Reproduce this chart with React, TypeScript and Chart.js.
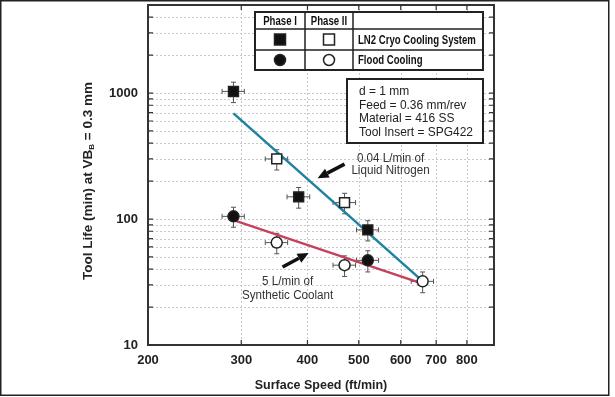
import React, { useEffect, useRef } from 'react';
import { Chart, registerables } from 'chart.js';
Chart.register(...registerables);

// ---- Data ----
const xTickValues = [200, 300, 400, 500, 600, 700, 800];
const yLabelValues = [10, 100, 1000];
const yMinorValues = [20, 30, 40, 50, 60, 70, 80, 90, 200, 300, 400, 500, 600, 700, 800, 900, 2000, 3000, 4000];

const ln2Phase1Speed = [290, 385, 520];
const ln2Phase1Life = [1030, 150, 82];
const ln2Phase1SpeedErr = [14, 19, 25];
const ln2Phase1LifeErr = [190, 28, 15];

const ln2Phase2Speed = [350, 470];
const ln2Phase2Life = [300, 135];
const ln2Phase2SpeedErr = [17, 23];
const ln2Phase2LifeErr = [55, 25];

const floodPhase1Speed = [290, 520];
const floodPhase1Life = [105, 47];
const floodPhase1SpeedErr = [14, 25];
const floodPhase1LifeErr = [19, 9];

const floodPhase2Speed = [350, 470, 660];
const floodPhase2Life = [65, 43, 32];
const floodPhase2SpeedErr = [17, 23, 32];
const floodPhase2LifeErr = [12, 8, 6];

const ln2FitSpeed = [290, 655];
const ln2FitLife = [690, 33];
const floodFitSpeed = [290, 655];
const floodFitLife = [98, 31];

const legendHeaders = ['Phase I', 'Phase II'];
const legendLabels = ['LN2 Cryo Cooling System', 'Flood Cooling'];
const infoLines = ['d = 1 mm', 'Feed = 0.36 mm/rev', 'Material = 416 SS', 'Tool Insert = SPG422'];

// annotations in data units (speed, life)
const ln2Note = { lines: ['0.04 L/min of', 'Liquid Nitrogen'], x: 574, y: [299, 240] };
const ln2Arrow = { from: [470, 273], to: [418, 211] };
const floodNote = { lines: ['5 L/min of', 'Synthetic Coolant'], x: 367, y: [31.6, 24.5] };
const floodArrow = { from: [359, 41.6], to: [402, 53.7] };

const pts = (xs: number[], ys: number[]) => xs.map((x, i) => ({ x, y: ys[i] }));

const SANS = "'Liberation Sans', Arial, sans-serif";

function txt(ctx: CanvasRenderingContext2D, s: string, x: number, y: number, font: string, align: CanvasTextAlign, sx = 1) {
  ctx.save();
  ctx.font = font;
  ctx.textAlign = align;
  ctx.textBaseline = 'middle';
  ctx.translate(x, y);
  ctx.scale(sx, 1);
  ctx.fillText(s, 0, 0);
  ctx.restore();
}

function drawMarker(ctx: CanvasRenderingContext2D, kind: string, x: number, y: number, s: number) {
  ctx.save();
  ctx.lineWidth = 1.5;
  ctx.strokeStyle = '#222';
  ctx.fillStyle = kind.startsWith('filled') ? '#111' : '#fff';
  ctx.beginPath();
  if (kind.endsWith('Square')) ctx.rect(x - s / 2, y - s / 2, s, s);
  else ctx.arc(x, y, s / 2, 0, Math.PI * 2);
  ctx.fill();
  ctx.stroke();
  ctx.restore();
}

function drawArrow(ctx: CanvasRenderingContext2D, x1: number, y1: number, x2: number, y2: number) {
  const ang = Math.atan2(y2 - y1, x2 - x1);
  const hl = 11, hw = 5;
  const bx = x2 - hl * Math.cos(ang), by = y2 - hl * Math.sin(ang);
  ctx.save();
  ctx.strokeStyle = '#111';
  ctx.fillStyle = '#111';
  ctx.lineWidth = 3.5;
  ctx.beginPath();
  ctx.moveTo(x1, y1);
  ctx.lineTo(bx, by);
  ctx.stroke();
  ctx.beginPath();
  ctx.moveTo(x2, y2);
  ctx.lineTo(bx + hw * Math.sin(ang), by - hw * Math.cos(ang));
  ctx.lineTo(bx - hw * Math.sin(ang), by + hw * Math.cos(ang));
  ctx.closePath();
  ctx.fill();
  ctx.restore();
}

const backgroundPlugin = {
  id: 'bgGridErr',
  beforeDatasetsDraw(chart: any) {
    const { ctx, chartArea: a, scales } = chart;
    const xs = scales.x, ys = scales.y;
    ctx.save();
    ctx.strokeStyle = '#c9c9c9';
    ctx.lineWidth = 1;
    ctx.setLineDash([2, 2]);
    xTickValues.slice(1).forEach((v) => {
      const px = Math.round(xs.getPixelForValue(v)) + 0.5;
      ctx.beginPath(); ctx.moveTo(px, a.top); ctx.lineTo(px, a.bottom); ctx.stroke();
    });
    [...yMinorValues, 100, 1000].forEach((v) => {
      const py = Math.round(ys.getPixelForValue(v)) + 0.5;
      ctx.beginPath(); ctx.moveTo(a.left, py); ctx.lineTo(a.right, py); ctx.stroke();
    });
    ctx.setLineDash([]);
    // error bars
    ctx.strokeStyle = '#555';
    ctx.lineWidth = 1;
    chart.data.datasets.forEach((ds: any) => {
      if (!ds.xErr) return;
      ds.data.forEach((p: any, i: number) => {
        const px = xs.getPixelForValue(p.x), py = ys.getPixelForValue(p.y);
        const xl = xs.getPixelForValue(p.x - ds.xErr[i]), xr = xs.getPixelForValue(p.x + ds.xErr[i]);
        const yt = ys.getPixelForValue(p.y + ds.yErr[i]), yb = ys.getPixelForValue(p.y - ds.yErr[i]);
        const c = 2.5;
        ctx.beginPath();
        ctx.moveTo(xl, py); ctx.lineTo(xr, py);
        ctx.moveTo(xl, py - c); ctx.lineTo(xl, py + c);
        ctx.moveTo(xr, py - c); ctx.lineTo(xr, py + c);
        ctx.moveTo(px, yt); ctx.lineTo(px, yb);
        ctx.moveTo(px - c, yt); ctx.lineTo(px + c, yt);
        ctx.moveTo(px - c, yb); ctx.lineTo(px + c, yb);
        ctx.stroke();
      });
    });
    ctx.restore();
  },
  afterDraw(chart: any) {
    const { ctx, chartArea: a, scales, width, height } = chart;
    const xs = scales.x, ys = scales.y;
    ctx.save();
    // outer image frame
    ctx.strokeStyle = '#222';
    ctx.lineWidth = 1.5;
    ctx.strokeRect(0.75, 0.75, width - 7, height - 2.5);

    // plot frame
    ctx.strokeStyle = '#333';
    ctx.lineWidth = 2;
    ctx.strokeRect(a.left, a.top, a.right - a.left, a.bottom - a.top);
    // inner ticks
    ctx.lineWidth = 1.2;
    const tl = 5;
    [...yMinorValues, ...yLabelValues].forEach((v) => {
      const py = ys.getPixelForValue(v);
      ctx.beginPath();
      ctx.moveTo(a.left, py); ctx.lineTo(a.left + tl, py);
      ctx.moveTo(a.right, py); ctx.lineTo(a.right - tl, py);
      ctx.stroke();
    });
    xTickValues.slice(1).forEach((v) => {
      const px = xs.getPixelForValue(v);
      ctx.beginPath();
      ctx.moveTo(px, a.top); ctx.lineTo(px, a.top + tl);
      ctx.moveTo(px, a.bottom); ctx.lineTo(px, a.bottom - tl);
      ctx.stroke();
    });

    // legend table
    const L = a.left + 107, T = a.top + 7, R = a.left + 335, B = a.top + 65;
    const c1 = a.left + 157, c2 = a.left + 205;
    const r1 = a.top + 24, r2 = a.top + 45;
    ctx.fillStyle = '#fff';
    ctx.fillRect(L, T, R - L, B - T);
    ctx.strokeStyle = '#222';
    ctx.lineWidth = 2;
    ctx.strokeRect(L, T, R - L, B - T);
    ctx.lineWidth = 1.5;
    ctx.beginPath();
    ctx.moveTo(L, r1); ctx.lineTo(R, r1);
    ctx.moveTo(L, r2); ctx.lineTo(R, r2);
    ctx.moveTo(c1, T); ctx.lineTo(c1, B);
    ctx.moveTo(c2, T); ctx.lineTo(c2, B);
    ctx.stroke();
    ctx.fillStyle = '#111';
    const lf = `bold 12px ${SANS}`;
    txt(ctx, legendHeaders[0], (L + c1) / 2, (T + r1) / 2 + 1, lf, 'center', 0.8);
    txt(ctx, legendHeaders[1], (c1 + c2) / 2, (T + r1) / 2 + 1, lf, 'center', 0.8);
    txt(ctx, legendLabels[0], c2 + 5, (r1 + r2) / 2 + 1, lf, 'left', 0.8);
    txt(ctx, legendLabels[1], c2 + 5, (r2 + B) / 2 + 1, lf, 'left', 0.8);
    drawMarker(ctx, 'filledSquare', (L + c1) / 2, (r1 + r2) / 2, 11);
    drawMarker(ctx, 'openSquare', (c1 + c2) / 2, (r1 + r2) / 2, 11);
    drawMarker(ctx, 'filledCircle', (L + c1) / 2, (r2 + B) / 2, 11);
    drawMarker(ctx, 'openCircle', (c1 + c2) / 2, (r2 + B) / 2, 11);

    // info box
    const iL = a.left + 199, iT = a.top + 74, iR = a.left + 335, iB = a.top + 138;
    ctx.fillStyle = '#fff';
    ctx.fillRect(iL, iT, iR - iL, iB - iT);
    ctx.strokeStyle = '#222';
    ctx.lineWidth = 2;
    ctx.strokeRect(iL, iT, iR - iL, iB - iT);
    ctx.fillStyle = '#222';
    infoLines.forEach((t, i) => txt(ctx, t, iL + 12, iT + 12.5 + i * 13.7, `13px ${SANS}`, 'left', 0.92));

    // annotations
    ctx.fillStyle = '#333';
    const af = `12px ${SANS}`;
    ln2Note.lines.forEach((t, i) => txt(ctx, t, xs.getPixelForValue(ln2Note.x), ys.getPixelForValue(ln2Note.y[i]), af, 'center', 0.97));
    floodNote.lines.forEach((t, i) => txt(ctx, t, xs.getPixelForValue(floodNote.x), ys.getPixelForValue(floodNote.y[i]), af, 'center', 0.97));
    drawArrow(ctx, xs.getPixelForValue(ln2Arrow.from[0]), ys.getPixelForValue(ln2Arrow.from[1]),
      xs.getPixelForValue(ln2Arrow.to[0]), ys.getPixelForValue(ln2Arrow.to[1]));
    drawArrow(ctx, xs.getPixelForValue(floodArrow.from[0]), ys.getPixelForValue(floodArrow.from[1]),
      xs.getPixelForValue(floodArrow.to[0]), ys.getPixelForValue(floodArrow.to[1]));

    // axis titles
    ctx.fillStyle = '#222';
    txt(ctx, 'Surface Speed (ft/min)', (a.left + a.right) / 2, 385, `bold 13px ${SANS}`, 'center', 0.96);

    ctx.save();
    ctx.translate(88, 181);
    ctx.rotate(-Math.PI / 2);
    const p1 = 'Tool Life (min) at VB', sub = 'B', p2 = ' = 0.3 mm';
    const mf = `bold 13.5px ${SANS}`, sf = `bold 8px ${SANS}`;
    ctx.font = mf;
    const w1 = ctx.measureText(p1).width, w3 = ctx.measureText(p2).width;
    ctx.font = sf;
    const w2 = ctx.measureText(sub).width;
    const x0 = -(w1 + w2 + w3) / 2;
    ctx.textAlign = 'left';
    ctx.textBaseline = 'middle';
    ctx.font = mf;
    ctx.fillText(p1, x0, 0);
    ctx.font = sf;
    ctx.fillText(sub, x0 + w1, 4);
    ctx.font = mf;
    ctx.fillText(p2, x0 + w1 + w2, 0);
    ctx.restore();

    ctx.restore();
  },
};

export default function App() {
  const ref = useRef<HTMLCanvasElement>(null);
  useEffect(() => {
    if (!ref.current) return;
    const markerBase = { showLine: false, borderWidth: 1.5, borderColor: '#222' };
    const chart = new Chart(ref.current, {
      type: 'scatter',
      data: {
        datasets: [
          { ...markerBase, label: 'LN2 Phase I', data: pts(ln2Phase1Speed, ln2Phase1Life), pointStyle: 'rect', pointRadius: 7, backgroundColor: '#111', xErr: ln2Phase1SpeedErr, yErr: ln2Phase1LifeErr } as any,
          { ...markerBase, label: 'LN2 Phase II', data: pts(ln2Phase2Speed, ln2Phase2Life), pointStyle: 'rect', pointRadius: 7, backgroundColor: '#fff', xErr: ln2Phase2SpeedErr, yErr: ln2Phase2LifeErr } as any,
          { ...markerBase, label: 'Flood Phase I', data: pts(floodPhase1Speed, floodPhase1Life), pointStyle: 'circle', pointRadius: 5.5, backgroundColor: '#111', xErr: floodPhase1SpeedErr, yErr: floodPhase1LifeErr } as any,
          { ...markerBase, label: 'Flood Phase II', data: pts(floodPhase2Speed, floodPhase2Life), pointStyle: 'circle', pointRadius: 5.5, backgroundColor: '#fff', xErr: floodPhase2SpeedErr, yErr: floodPhase2LifeErr } as any,
          { label: 'LN2 fit', data: pts(ln2FitSpeed, ln2FitLife), showLine: true, borderColor: '#1f82a0', borderWidth: 2.5, pointRadius: 0 },
          { label: 'Flood fit', data: pts(floodFitSpeed, floodFitLife), showLine: true, borderColor: '#c4435a', borderWidth: 2.5, pointRadius: 0 },
        ],
      },
      options: {
        responsive: false,
        animation: false,
        devicePixelRatio: 1,
        layout: { autoPadding: false, padding: { top: 5, right: 121, left: 0, bottom: 0 } },
        plugins: { legend: { display: false }, tooltip: { enabled: false } },
        scales: {
          x: {
            type: 'logarithmic',
            min: 200,
            max: 900,
            grid: { display: false },
            border: { display: false },
            afterBuildTicks: (s: any) => { s.ticks = xTickValues.map((v) => ({ value: v })); },
            afterFit: (s: any) => { s.height = 52; s.paddingLeft = 0; s.paddingRight = 0; s.paddingTop = 0; s.paddingBottom = 0; },
            ticks: {
              autoSkip: false,
              maxRotation: 0,
              padding: 0,
              color: '#222',
              font: { family: SANS, size: 13, weight: 'bold' },
              callback: (v: any) => String(v),
            },
          },
          y: {
            type: 'logarithmic',
            min: 10,
            max: 5000,
            grid: { display: false },
            border: { display: false },
            afterBuildTicks: (s: any) => { s.ticks = [...yLabelValues, ...yMinorValues].sort((p, q) => p - q).map((v) => ({ value: v })); },
            afterFit: (s: any) => { s.width = 148; s.paddingLeft = 0; s.paddingRight = 0; s.paddingTop = 0; s.paddingBottom = 0; },
            ticks: {
              autoSkip: false,
              padding: 2,
              color: '#222',
              font: { family: SANS, size: 13, weight: 'bold' },
              callback: (v: any) => (yLabelValues.includes(Number(v)) ? String(v) : ''),
            },
          },
        },
      } as any,
      plugins: [backgroundPlugin],
    });
    return () => chart.destroy();
  }, []);
  return (
    <div style={{ position: 'fixed', left: 0, top: 0, width: 615, height: 397, background: '#fff' }}>
      <canvas ref={ref} width={615} height={397} style={{ display: 'block' }} />
    </div>
  );
}
